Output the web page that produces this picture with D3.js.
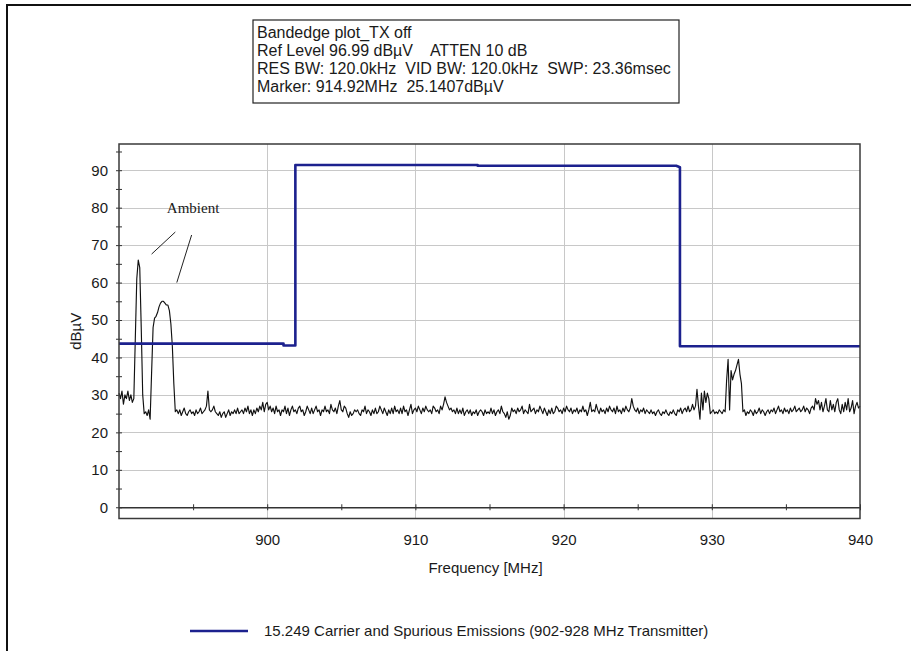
<!DOCTYPE html>
<html>
<head>
<meta charset="utf-8">
<script src="https://cdn.jsdelivr.net/npm/d3@7"></script>
<style>
body { margin: 0; background: #fff; }
svg text { font-family: Arial, "Liberation Sans", sans-serif; fill: #1a1a1a; }
</style>
</head>
<body>
<div id="chart"></div>
<script>
// header box text
const infoLines = [
	"Bandedge plot_TX off",
	"Ref Level 96.99 dB\u00b5V    ATTEN 10 dB",
	"RES BW: 120.0kHz  VID BW: 120.0kHz  SWP: 23.36msec",
	"Marker: 914.92MHz  25.1407dB\u00b5V"
];

const xLabelTicks = [900, 910, 920, 930, 940];
const xMinorTicks = [895, 900, 905, 910, 915, 920, 925, 930, 935, 940];
const yLabelTicks = [0, 10, 20, 30, 40, 50, 60, 70, 80, 90];
const yMinorTicks = [0, 5, 10, 15, 20, 25, 30, 35, 40, 45, 50, 55, 60, 65, 70, 75, 80, 85, 90, 95];

// limit line (blue)
const limitFreq  = [890, 901.1, 901.1, 901.9, 901.9, 914.2, 914.2, 927.6, 927.85, 927.85, 940];
const limitLevel = [43.7, 43.7, 43.2, 43.2, 91.4, 91.4, 91.2, 91.2, 90.8, 43.0, 43.0];
const legendLabel = "15.249 Carrier and Spurious Emissions (902-928 MHz Transmitter)";

// measured trace (black), 890.0 .. 940.0 MHz every 0.1 MHz
const traceStart = 890;
const traceStep = 0.1;
const traceLevel = [
	30.5, 29, 31, 27.5, 30, 29, 31, 28.5, 30, 28,
	29, 45, 61, 66, 64, 48, 30, 25, 25.5, 24.5,
	26, 23.5, 36, 48, 50.5, 51, 52, 53.5, 54.5, 55,
	55, 54.5, 54, 54, 52.5, 49, 43, 33, 25.5, 26,
	25, 26, 24.5, 25.5, 26.5, 25, 24.5, 25.5, 26, 25,
	25.5, 24.5, 26, 25, 25.5, 26.5, 25, 25.5, 26, 27,
	31, 26, 25.5, 26, 27, 25.5, 25, 24.5, 25.5, 24,
	25, 25.5, 24, 25, 26, 24.5, 25.5, 25, 26, 25,
	26.5, 25, 25.5, 26, 25, 26.5, 25.5, 27, 25, 26,
	24.5, 26, 25, 26.5, 25.5, 27, 26, 28, 25.5, 27.5,
	28, 26, 27, 25.5, 26.5, 25, 27, 25.5, 26, 24.5,
	26, 25.5, 27, 25, 26.5, 24.5, 26, 27, 25.5, 26,
	25, 26.5, 27, 25.5, 26, 24.5, 25.5, 27, 26, 25,
	26.5, 25, 26, 27, 25.5, 26, 24.5, 26, 25.5, 27,
	25.5, 26, 25, 27.5, 26, 25.5, 26.5, 25, 27, 28.5,
	26, 25.5, 27, 26.5, 25, 24, 25.5, 24.5, 25, 26,
	25.5, 26, 25, 24.5, 26, 25.5, 27, 25, 26, 25.5,
	24.5, 26, 25, 26.5, 25, 25.5, 27, 26, 25, 26.5,
	25.5, 24.5, 26, 25, 26.5, 25, 27, 25.5, 26, 25,
	26.5, 25, 27, 25.5, 26, 24.5, 26, 27.5, 25, 26,
	26.5, 25.5, 27, 26, 25, 26.5, 25.5, 27, 26, 25.5,
	26, 25, 27, 26.5, 25.5, 26, 25, 27, 26, 27.5,
	29.5, 28, 27, 26, 26.5, 25.5, 26, 25, 26.5, 25,
	26, 25, 26.5, 24.5, 25.5, 26, 25, 26, 24.5, 25.5,
	25, 26, 24.5, 25.5, 26, 25.5, 24.5, 26, 25, 25.5,
	25, 26.5, 25, 26, 24.5, 25.5, 26, 25, 27, 25.5,
	25, 24, 25.5, 23.5, 24.5, 26.5, 25.5, 26, 25, 26.5,
	25.5, 26, 27, 25, 26, 25.5, 25, 27.5, 25.5, 26,
	26.5, 25, 26, 25.5, 27, 26, 25, 26.5, 25.5, 24.5,
	26, 25, 26.5, 25, 25.5, 27, 26.5, 25.5, 26, 25,
	26.5, 25.5, 27, 26, 25.5, 26.5, 25, 26, 25.5, 26.5,
	25, 26, 25.5, 27, 25.5, 26, 24.5, 26, 28, 25.5,
	26, 25.5, 27.5, 26, 25, 26.5, 25.5, 26, 25, 26.5,
	25.5, 27, 26, 25.5, 26.5, 25, 27, 25.5, 26, 25,
	26.5, 25.5, 27, 26, 25.5, 26.5, 29, 27, 26, 25.5,
	26.5, 25, 26, 25.5, 26.5, 25, 26, 25.5, 25, 26,
	25, 25.5, 24.5, 25.5, 26, 25, 24.5, 25.5, 25, 26,
	25, 24.5, 25.5, 25, 26, 25, 24.5, 26, 25.5, 26.5,
	25, 26, 26.5, 25.5, 27, 25.5, 26, 27.5, 26, 27,
	31.5, 27, 23.5, 30.5, 26, 31, 28, 30.5, 29, 25,
	25.5, 26, 25, 25.5, 25, 26, 25.5, 25, 26, 25.5,
	34, 39.5, 26, 36.5, 34, 35.5, 36.5, 38, 39.5, 35.5,
	33, 25.5, 26, 24.5, 25.5, 25, 26, 25.5, 24.5, 26,
	25, 25.5, 26.5, 25, 26, 25.5, 24.5, 25.5, 26, 25,
	26, 25.5, 26.5, 25, 26, 27, 25.5, 26, 25, 26.5,
	25.5, 26, 25, 26.5, 25.5, 26, 27, 25.5, 26, 26.5,
	25.5, 26, 27, 25.5, 26.5, 26, 25, 26.5, 27, 26,
	29, 27.5, 28.5, 26, 28, 25.5, 27, 29, 26, 25.5,
	28.5, 26, 27.5, 25.5, 28, 29, 26, 25, 27.5, 25.5,
	28, 26, 29, 25.5, 26.5, 28.5, 25, 27, 28, 26.5,
	27
];

// hand-drawn note on the ambient peaks
const ambientLabel = "Ambient";
const ambientAt = [895, 80];
const ambientLeaders = [
	[892.2, 67.6, 893.8, 73.5],
	[893.9, 60.0, 894.9, 72.7]
];

let Chart = {
	constant: {
		width: 911,
		height: 651,
		plotL: 119,
		plotR: 860,
		plotT: 144,
		plotB: 518.5,
		colorLimit: "#1c218e",
		colorTrace: "#111",
		colorGrid: "#c8c8c8",
		colorAxis: "#333",
		fontSize: 15
	},
	draw: (strSelector) => {
		let c = Chart.constant;
		let svg = d3.select(strSelector).append("svg")
			.attr("width", c.width)
			.attr("height", c.height)
			.style("display", "block");

		/* outer frame of the screenshot */
		svg.append("path")
			.attr("d", `M7,${c.height}V5H${c.width}`)
			.attr("fill", "none")
			.attr("stroke", "#111")
			.attr("stroke-width", 2);

		/* info box */
		let info = svg.append("g").attr("transform", "translate(253,20)");
		info.append("rect")
			.attr("width", 426).attr("height", 83)
			.attr("fill", "#fff").attr("stroke", "#222").attr("stroke-width", 1.2);
		info.selectAll("text").data(infoLines).enter().append("text")
			.attr("x", 4)
			.attr("y", (d, i) => 18 + i * 18)
			.attr("font-size", 16)
			.attr("xml:space", "preserve")
			.style("white-space", "pre")
			.text((d) => d);

		let x = d3.scaleLinear().domain([890, 940]).range([c.plotL, c.plotR]);
		let y = d3.scaleLinear().domain([-3, 97]).range([c.plotB, c.plotT]);

		/* grid */
		let grid = svg.append("g").attr("stroke", c.colorGrid).attr("stroke-width", 1);
		grid.selectAll(".gx").data(xLabelTicks.filter((d) => d < 940)).enter().append("line")
			.attr("x1", (d) => Math.round(x(d)) + 0.5).attr("x2", (d) => Math.round(x(d)) + 0.5)
			.attr("y1", c.plotT).attr("y2", c.plotB);
		grid.selectAll(".gy").data(yLabelTicks.filter((d) => d > 0)).enter().append("line")
			.attr("x1", c.plotL).attr("x2", c.plotR)
			.attr("y1", (d) => Math.round(y(d)) + 0.5).attr("y2", (d) => Math.round(y(d)) + 0.5);

		/* trace */
		let line = d3.line()
			.x((d, i) => x(traceStart + i * traceStep))
			.y((d) => y(d));
		svg.append("path")
			.datum(traceLevel)
			.attr("d", line)
			.attr("fill", "none")
			.attr("stroke", c.colorTrace)
			.attr("stroke-width", 1.15)
			.attr("stroke-linejoin", "round");

		/* limit */
		let limitLine = d3.line()
			.x((d) => x(limitFreq[d]))
			.y((d) => y(limitLevel[d]));
		svg.append("path")
			.datum(d3.range(limitFreq.length))
			.attr("d", limitLine)
			.attr("fill", "none")
			.attr("stroke", c.colorLimit)
			.attr("stroke-width", 2.6)
			.attr("stroke-linejoin", "round");

		/* y axis (left border) */
		let yAxis = svg.append("g")
			.attr("transform", `translate(${c.plotL},0)`)
			.call(d3.axisLeft(y).tickValues(yMinorTicks).tickSize(3).tickPadding(8)
				.tickFormat((d) => d % 10 === 0 ? d : ""));
		yAxis.select(".domain").remove();
		yAxis.selectAll(".tick line").attr("x1", 3).attr("stroke", c.colorAxis);
		yAxis.selectAll(".tick text")
			.attr("font-size", c.fontSize).attr("font-family", null).attr("fill", "#1a1a1a");

		/* x axis line at 0 */
		let xAxis = svg.append("g")
			.attr("transform", `translate(0,${y(0)})`)
			.call(d3.axisBottom(x).tickValues(xMinorTicks).tickSize(3).tickFormat(""));
		xAxis.select(".domain").attr("d", `M${c.plotL},0.5H${c.plotR}`).attr("stroke", c.colorAxis).attr("stroke-width", 1.3);
		xAxis.selectAll(".tick line").attr("y1", -3).attr("stroke", c.colorAxis);

		/* x labels under the box */
		let xLab = svg.append("g")
			.attr("transform", `translate(0,${c.plotB})`)
			.call(d3.axisBottom(x).tickValues(xLabelTicks).tickSize(0).tickPadding(16));
		xLab.select(".domain").remove();
		xLab.selectAll(".tick text")
			.attr("font-size", c.fontSize).attr("font-family", null).attr("fill", "#1a1a1a");

		/* plot frame */
		svg.append("rect")
			.attr("x", c.plotL).attr("y", c.plotT)
			.attr("width", c.plotR - c.plotL).attr("height", c.plotB - c.plotT)
			.attr("fill", "none").attr("stroke", "#3a3a3a").attr("stroke-width", 1.5);

		/* axis titles */
		svg.append("text")
			.attr("x", (c.plotL + c.plotR) / 2 - 4)
			.attr("y", c.plotB + 54)
			.attr("text-anchor", "middle")
			.attr("font-size", c.fontSize)
			.text("Frequency [MHz]");
		svg.append("text")
			.attr("transform", `translate(81,${(c.plotT + c.plotB) / 2}) rotate(-90)`)
			.attr("text-anchor", "middle")
			.attr("font-size", c.fontSize)
			.text("dB\u00b5V");

		/* ambient note */
		svg.append("text")
			.attr("x", x(ambientAt[0])).attr("y", y(ambientAt[1]) + 5)
			.attr("text-anchor", "middle")
			.attr("font-size", 15)
			.style("font-family", "'Liberation Serif', 'Times New Roman', serif")
			.text(ambientLabel);
		svg.selectAll(".leader").data(ambientLeaders).enter().append("line")
			.attr("x1", (d) => x(d[0])).attr("y1", (d) => y(d[1]))
			.attr("x2", (d) => x(d[2])).attr("y2", (d) => y(d[3]))
			.attr("stroke", "#222").attr("stroke-width", 1);

		/* legend */
		let legend = svg.append("g").attr("transform", "translate(190,631)");
		legend.append("line")
			.attr("x1", 0).attr("x2", 58)
			.attr("stroke", c.colorLimit).attr("stroke-width", 2.4);
		legend.append("text")
			.attr("x", 74).attr("dy", "0.35em")
			.attr("font-size", c.fontSize)
			.text(legendLabel);
	}
};

Chart.draw("#chart");
</script>
</body>
</html>
